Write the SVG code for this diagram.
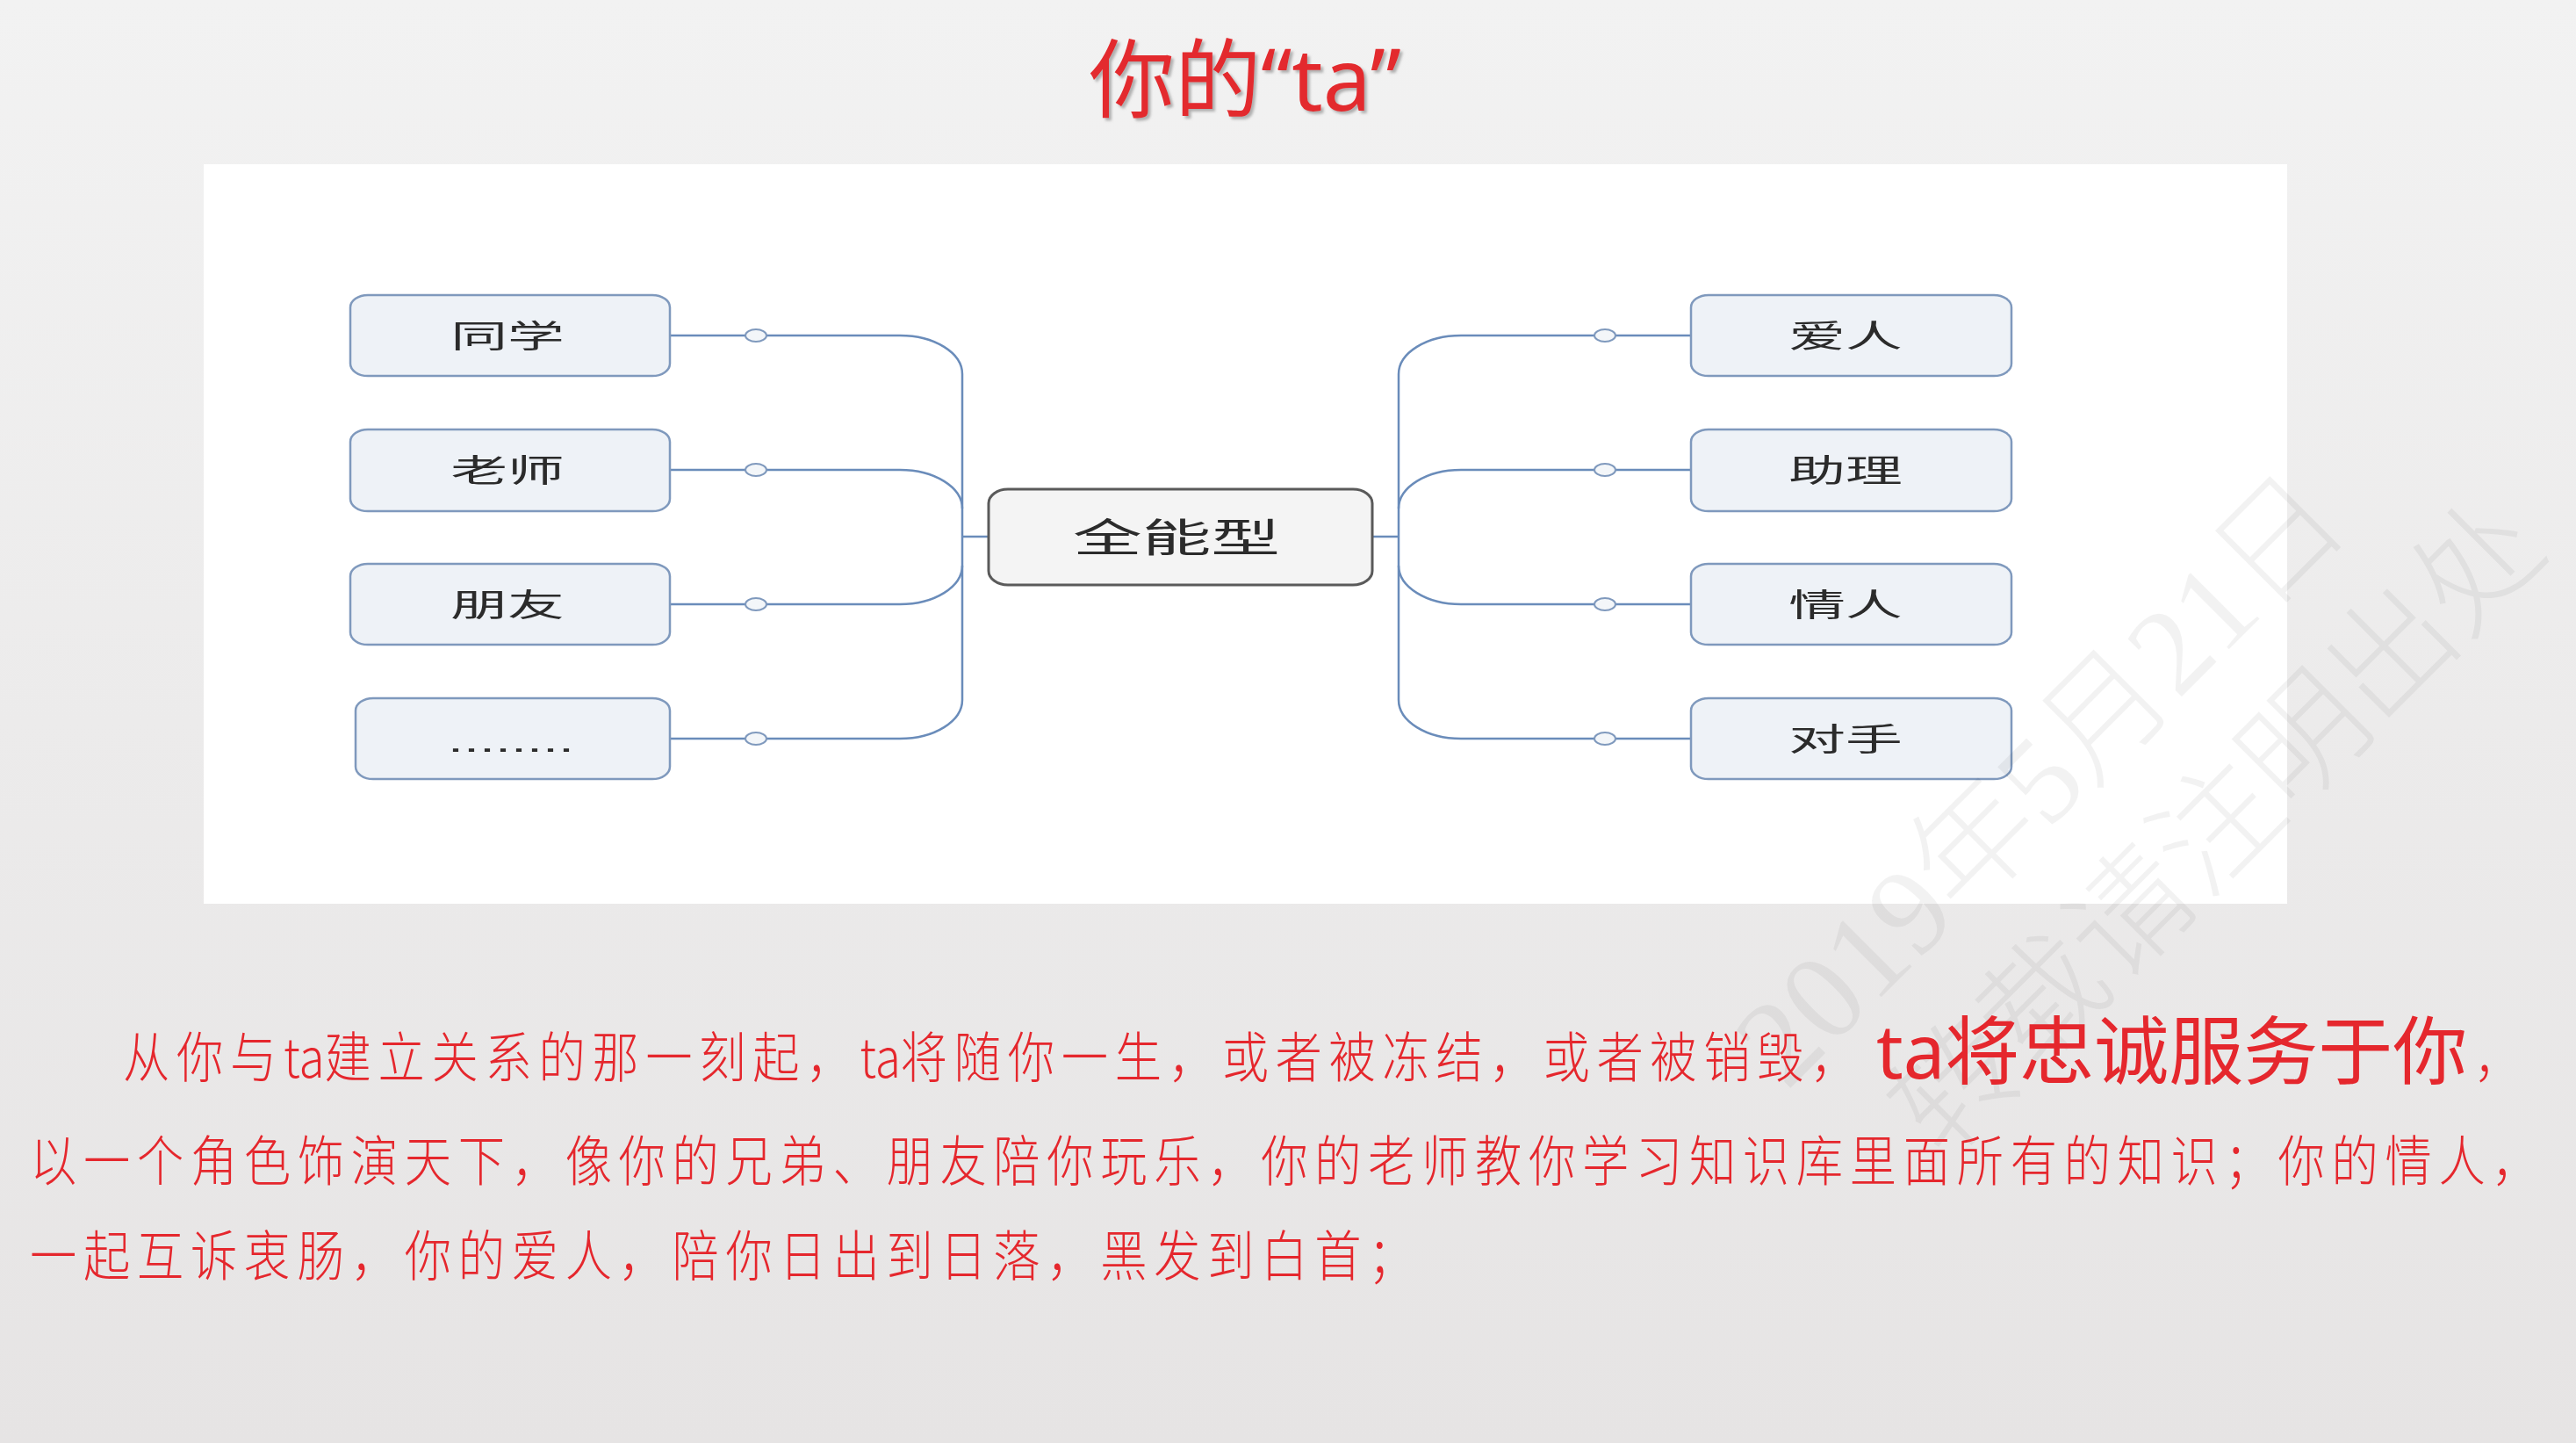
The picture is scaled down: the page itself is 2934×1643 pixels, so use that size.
<svg xmlns="http://www.w3.org/2000/svg" width="2934" height="1643" viewBox="0 0 2934 1643">
  <defs>
    <linearGradient id="bg" x1="0" y1="0" x2="0" y2="1">
      <stop offset="0" stop-color="#F2F2F2"/>
      <stop offset="1" stop-color="#E6E4E4"/>
    </linearGradient>
    <filter id="shadow" x="-10%" y="-20%" width="120%" height="140%">
      <feDropShadow dx="3" dy="3" stdDeviation="1.5" flood-color="#7a7a7a" flood-opacity="0.55"/>
    </filter>
    <style>
      .node rect { fill: #EEF2F7; stroke: #7F99BD; stroke-width: 2.5; }
      .center rect { fill: #F4F4F4; stroke: #5A5A5A; stroke-width: 3; }
      .lbl { font-family: "Noto Sans CJK SC", "Noto Sans", sans-serif; font-size: 36px; fill: #2B2B2B; text-anchor: middle; }
      .clbl { font-family: "Noto Sans CJK SC", "Noto Sans", sans-serif; font-size: 45px; fill: #2B2B2B; text-anchor: middle; }
      .conn path { fill: none; stroke: #6A8CBA; stroke-width: 2.5; }
      .conn ellipse { fill: #F3F6F9; stroke: #7F99BD; stroke-width: 2; }
      .body { font-family: "Noto Sans CJK SC", "Noto Sans", sans-serif; font-size: 62px; font-weight: 300; fill: #E5272D; letter-spacing: 8.9px; }
      .body .lat { letter-spacing: 0; }
      .big { font-family: "Noto Sans", "Noto Sans CJK SC", sans-serif; font-size: 85px; font-weight: 400; fill: #E5272D; }
      .wm { font-family: "Liberation Serif", "Noto Sans CJK SC", serif; font-size: 140px; font-weight: 300; fill: #000; fill-opacity: 0.05; }
    </style>
  </defs>

  <rect x="0" y="0" width="2934" height="1643" fill="url(#bg)"/>

  <g id="title">
    <text x="1418" y="126" text-anchor="middle" font-family="Noto Sans, Noto Sans CJK SC, sans-serif" font-size="98" font-weight="400" fill="#E32A2E" filter="url(#shadow)">你的“ta”</text>
  </g>

  <rect id="panel" x="232" y="187" width="2373" height="842" fill="#FFFFFF"/>

  <g id="connectors" class="conn">
    <path d="M763,382 H1025 A71,44 0 0 1 1096,426 V797 A71,44 0 0 1 1025,841 H763"/>
    <path d="M763,535 H1025 A71,44 0 0 1 1096,579"/>
    <path d="M763,688 H1025 A71,44 0 0 0 1096,644"/>
    <path d="M1096,611 H1126"/>
    <path d="M1926,382 H1664 A71,44 0 0 0 1593,426 V797 A71,44 0 0 0 1664,841 H1926"/>
    <path d="M1926,535 H1664 A71,44 0 0 0 1593,579"/>
    <path d="M1926,688 H1664 A71,44 0 0 1 1593,644"/>
    <path d="M1562,611 H1593"/>
    <ellipse cx="861" cy="382" rx="12" ry="7"/>
    <ellipse cx="861" cy="535" rx="12" ry="7"/>
    <ellipse cx="861" cy="688" rx="12" ry="7"/>
    <ellipse cx="861" cy="841" rx="12" ry="7"/>
    <ellipse cx="1828" cy="382" rx="12" ry="7"/>
    <ellipse cx="1828" cy="535" rx="12" ry="7"/>
    <ellipse cx="1828" cy="688" rx="12" ry="7"/>
    <ellipse cx="1828" cy="841" rx="12" ry="7"/>
  </g>

  <g id="node-center" class="center">
    <rect x="1126" y="557" width="437" height="109" rx="22" ry="16"/>
    <text class="clbl" transform="translate(1340,629) scale(1.75,1)">全能型</text>
  </g>

  <g id="node-tongxue" class="node">
    <rect x="399" y="336" width="364" height="92" rx="20" ry="14"/>
    <text class="lbl" transform="translate(578,396) scale(1.8,1)">同学</text>
  </g>
  <g id="node-laoshi" class="node">
    <rect x="399" y="489" width="364" height="93" rx="20" ry="14"/>
    <text class="lbl" transform="translate(578,549) scale(1.8,1)">老师</text>
  </g>
  <g id="node-pengyou" class="node">
    <rect x="399" y="642" width="364" height="92" rx="20" ry="14"/>
    <text class="lbl" transform="translate(578,702) scale(1.8,1)">朋友</text>
  </g>
  <g id="node-more" class="node">
    <rect x="405" y="795" width="358" height="92" rx="20" ry="14"/>
    <text transform="translate(582,856) scale(1.8,1)" text-anchor="middle" font-family="Liberation Sans, sans-serif" font-size="36" fill="#2B2B2B">........</text>
  </g>

  <g id="node-airen" class="node">
    <rect x="1926" y="336" width="365" height="92" rx="20" ry="14"/>
    <text class="lbl" transform="translate(2102,396) scale(1.8,1)">爱人</text>
  </g>
  <g id="node-zhuli" class="node">
    <rect x="1926" y="489" width="365" height="93" rx="20" ry="14"/>
    <text class="lbl" transform="translate(2102,549) scale(1.8,1)">助理</text>
  </g>
  <g id="node-qingren" class="node">
    <rect x="1926" y="642" width="365" height="92" rx="20" ry="14"/>
    <text class="lbl" transform="translate(2102,702) scale(1.8,1)">情人</text>
  </g>
  <g id="node-duishou" class="node">
    <rect x="1926" y="795" width="365" height="92" rx="20" ry="14"/>
    <text class="lbl" transform="translate(2102,855) scale(1.8,1)">对手</text>
  </g>

  <g id="watermark" transform="rotate(-45)">
    <text class="wm" x="560" y="2318">2019年5月21日</text>
    <text class="wm" x="630" y="2500">转载请注明出处</text>
  </g>

  <g id="body-text">
    <text class="body" transform="translate(140,1227) scale(0.86,1)">从你与<tspan class="lat">ta</tspan>建立关系的那一刻起，<tspan class="lat">ta</tspan>将随你一生，或者被冻结，或者被销毁，</text>
    <text class="big" x="2137" y="1228">ta将忠诚服务于你</text>
    <text class="body" transform="translate(2818,1227) scale(0.86,1)">，</text>
    <text class="body" transform="translate(34,1345) scale(0.86,1)">以一个角色饰演天下，像你的兄弟、朋友陪你玩乐，你的老师教你学习知识库里面所有的知识；你的情人，</text>
    <text class="body" transform="translate(34,1453) scale(0.86,1)">一起互诉衷肠，你的爱人，陪你日出到日落，黑发到白首；</text>
  </g>
</svg>
